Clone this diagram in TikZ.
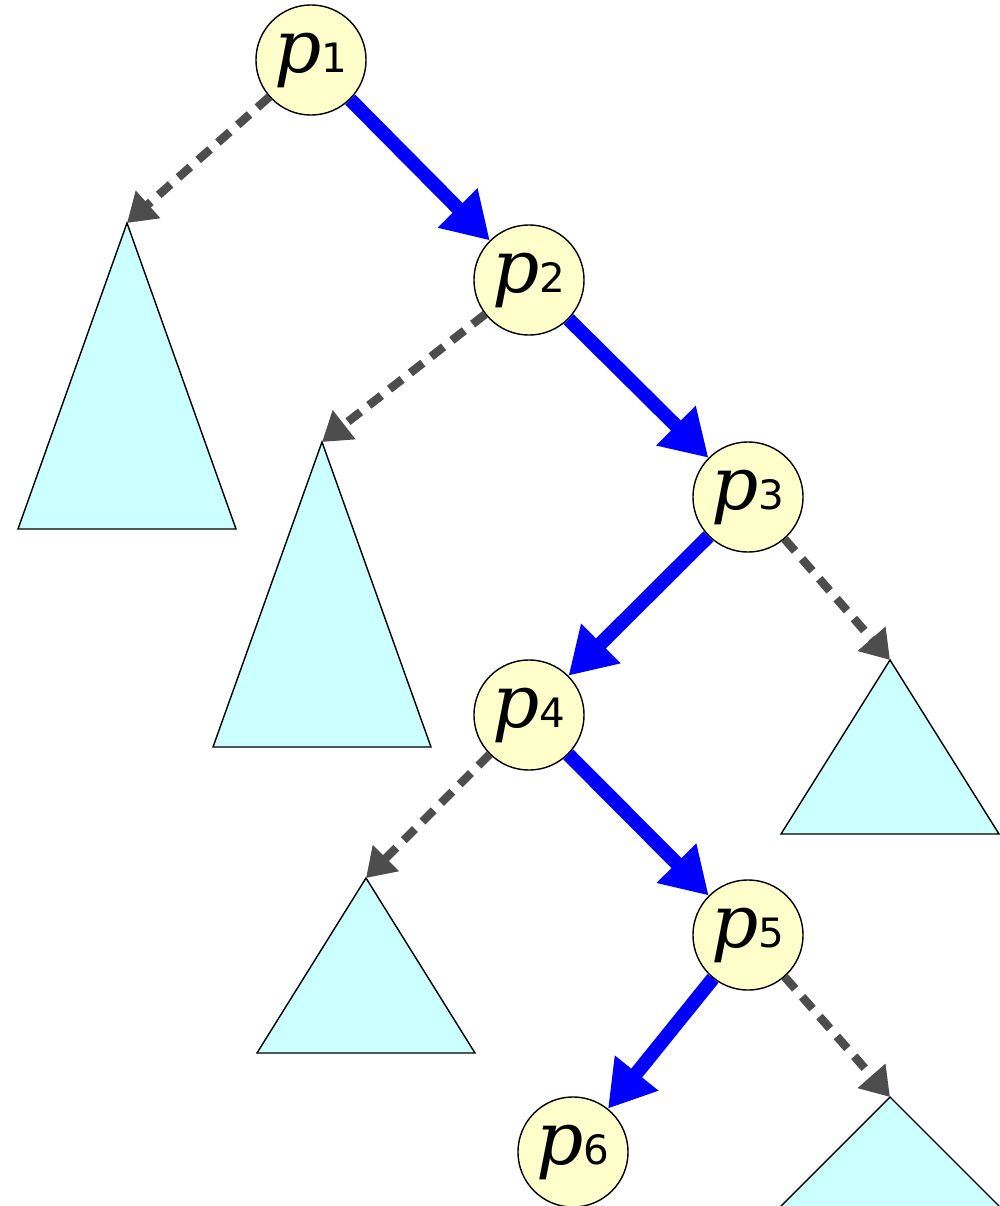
\documentclass[tikz,border=0pt]{standalone}
\usepackage{fontspec}
\setmainfont{DejaVu Serif}
\setsansfont{DejaVu Sans}
\usepackage{xcolor}
\usetikzlibrary{arrows.meta}

\definecolor{nodeyellow}{HTML}{FFFFCC}
\definecolor{treecyan}{HTML}{CCFFFF}
\definecolor{linegray}{HTML}{4D4D4D}

\newcommand{\pname}[1]{{\fontsize{21}{21}\selectfont\itshape p}{\fontsize{11.5}{11.5}\selectfont\sffamily #1}}

\begin{document}
\begin{tikzpicture}[
        x=0.01cm, y=-0.01cm,
        pnode/.style={circle, draw=black, fill=nodeyellow, minimum size=1.1cm, inner sep=0pt, thin},
        subtree/.style={draw=black, fill=treecyan, thin},
        pathedge/.style={line width=4pt, blue, -{Triangle[length=13pt, width=15pt]}},
        sideedge/.style={line width=2.4pt, linegray, dash pattern=on 4.5pt off 3pt, -{Triangle[length=8pt, width=10pt]}}
    ]
    \useasboundingbox (0,0) rectangle (1000,1206);

    % Search path nodes
    \node[pnode] (p1) at (311,60) {\pname{1}};
    \node[pnode] (p2) at (529,280) {\pname{2}};
    \node[pnode] (p3) at (748,497) {\pname{3}};
    \node[pnode] (p4) at (529,715) {\pname{4}};
    \node[pnode] (p5) at (748,935) {\pname{5}};
    \node[pnode] (p6) at (573,1152) {\pname{6}};

    % Subtree apexes
    \coordinate (t1) at (127,223);
    \coordinate (t2) at (322,442);
    \coordinate (t3) at (890,660);
    \coordinate (t4) at (366,878);
    \coordinate (t5) at (890,1097);

    % Subtrees
    \draw[subtree] (t1) -- ++(-109,306) -- ++(218,0) -- cycle;
    \draw[subtree] (t2) -- ++(-109,305) -- ++(218,0) -- cycle;
    \draw[subtree] (t3) -- ++(-109,174) -- ++(218,0) -- cycle;
    \draw[subtree] (t4) -- ++(-109,175) -- ++(218,0) -- cycle;
    \draw[subtree] (t5) -- ++(-110,110) -- ++(220,0) -- cycle;

    % Search path
    \draw[pathedge] (p1) -- (p2);
    \draw[pathedge] (p2) -- (p3);
    \draw[pathedge] (p3) -- (p4);
    \draw[pathedge] (p4) -- (p5);
    \draw[pathedge] (p5) -- (p6);

    % Side branches
    \draw[sideedge] (p1) -- (t1);
    \draw[sideedge] (p2) -- (t2);
    \draw[sideedge] (p3) -- (t3);
    \draw[sideedge] (p4) -- (t4);
    \draw[sideedge] (p5) -- (t5);

\end{tikzpicture}
\end{document}
